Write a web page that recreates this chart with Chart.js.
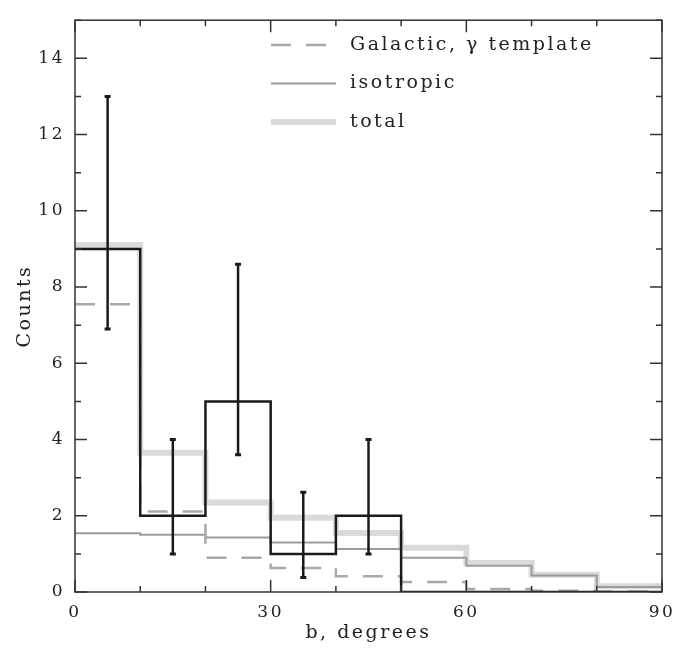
<!DOCTYPE html>
<html>
<head>
<meta charset="utf-8">
<script src="https://cdn.jsdelivr.net/npm/chart.js@4/dist/chart.umd.min.js"></script>
<style>
  html, body { margin: 0; padding: 0; background: #fff; }
</style>
</head>
<body>
<canvas id="chart" width="694" height="649"></canvas>
<script>
// bin edges in b (degrees), 10 degree bins
var binEdges = [0, 10, 20, 30, 40, 50, 60, 70, 80, 90];

// counts per bin
var observed  = [9, 2, 5, 1, 2, 0, 0, 0, 0];
var galactic  = [7.55, 2.11, 0.90, 0.63, 0.41, 0.26, 0.08, 0.03, 0.01];
var isotropic = [1.54, 1.50, 1.43, 1.30, 1.13, 0.90, 0.69, 0.43, 0.13];
var total     = [9.10, 3.65, 2.35, 1.95, 1.55, 1.16, 0.76, 0.45, 0.15];

// error bars on the observed counts (bin centre, low, high)
var errCentres = [5, 15, 25, 35, 45];
var errLow     = [6.9, 1.0, 3.6, 0.38, 1.0];
var errHigh    = [13.0, 4.0, 8.6, 2.62, 4.0];

var legendLabels = ["Galactic, \u03b3 template", "isotropic", "total"];

var FONT = "'DejaVu Serif', 'Liberation Serif', serif";

// histogram -> step points (left edge of each bin, plus the closing right edge)
function steps(values) {
  var pts = values.map(function(v, i) { return { x: binEdges[i], y: v }; });
  pts.push({ x: binEdges[binEdges.length - 1], y: values[values.length - 1] });
  return pts;
}

function errorPoints() {
  var pts = [];
  errCentres.forEach(function(c, i) {
    pts.push({ x: c, y: errLow[i] });
    pts.push({ x: c, y: errHigh[i] });
    pts.push({ x: c, y: null });
  });
  return pts;
}

var frameAndTicks = {
  id: "frameAndTicks",
  beforeDraw: function(chart) {
    chart.ctx.letterSpacing = "2.5px";
  },
  afterDatasetsDraw: function(chart) {
    var ctx = chart.ctx, a = chart.chartArea;
    var xs = chart.scales.x, ys = chart.scales.y;
    ctx.save();
    ctx.strokeStyle = "#333";
    ctx.lineWidth = 1.5;
    ctx.strokeRect(a.left, a.top, a.right - a.left, a.bottom - a.top);
    ctx.beginPath();
    for (var b = 0; b <= 90; b += 10) {
      var px = xs.getPixelForValue(b);
      var len = (b % 30 === 0) ? 12 : 6;
      ctx.moveTo(px, a.bottom); ctx.lineTo(px, a.bottom - len);
      ctx.moveTo(px, a.top); ctx.lineTo(px, a.top + len);
    }
    for (var c = 0; c <= 15; c += 1) {
      var py = ys.getPixelForValue(c);
      var l2 = (c % 2 === 0) ? 12 : 6;
      ctx.moveTo(a.left, py); ctx.lineTo(a.left + l2, py);
      ctx.moveTo(a.right, py); ctx.lineTo(a.right - l2, py);
    }
    ctx.stroke();
    ctx.restore();
  },
  afterDraw: function(chart) {
    // legend, top right of the plot
    var ctx = chart.ctx;
    var styles = chart.data.datasets.slice(0, 3);
    var x0 = 271, x1 = 336, tx = 350, y0 = 45, dy = 38.5;
    ctx.save();
    legendLabels.forEach(function(lab, i) {
      var ds = styles[i], y = y0 + i * dy;
      ctx.strokeStyle = ds.borderColor;
      ctx.lineWidth = ds.borderWidth;
      ctx.setLineDash(ds.borderDash || []);
      ctx.beginPath(); ctx.moveTo(x0, y); ctx.lineTo(x1, y); ctx.stroke();
      ctx.setLineDash([]);
      ctx.fillStyle = "#222";
      ctx.font = "19px " + FONT;
      ctx.textBaseline = "middle";
      ctx.textAlign = "left";
      ctx.fillText(lab, tx, y);
    });
    ctx.restore();
  }
};

var ctx = document.getElementById("chart").getContext("2d");
var oChart = new Chart(ctx, {
  type: "line",
  data: {
    datasets: [{
      label: legendLabels[0],
      data: steps(galactic),
      stepped: "before",
      borderColor: "#a9a9a9",
      borderWidth: 2.5,
      borderDash: [20, 15],
      pointRadius: 0,
      order: 3
    }, {
      label: legendLabels[1],
      data: steps(isotropic),
      stepped: "before",
      borderColor: "#9c9c9c",
      borderWidth: 2,
      pointRadius: 0,
      order: 4
    }, {
      label: legendLabels[2],
      data: steps(total),
      stepped: "before",
      borderColor: "#dadada",
      borderWidth: 6,
      pointRadius: 0,
      order: 5
    }, {
      label: "data",
      data: steps(observed),
      stepped: "before",
      borderColor: "#1a1a1a",
      borderWidth: 2.5,
      pointRadius: 0,
      order: 2
    }, {
      label: "errors",
      data: errorPoints(),
      borderColor: "#1a1a1a",
      borderWidth: 2.5,
      spanGaps: false,
      pointStyle: "line",
      pointRadius: 3,
      pointBorderWidth: 3,
      pointBorderColor: "#1a1a1a",
      order: 1
    }]
  },
  options: {
    responsive: false,
    animation: false,
    layout: { padding: { top: 5, right: 32, left: 0, bottom: 0 } },
    plugins: { legend: { display: false }, tooltip: { enabled: false } },
    scales: {
      x: {
        type: "linear",
        min: 0,
        max: 90,
        afterFit: function(scale) { scale.height = 57; },
        border: { display: false },
        grid: { display: false, drawTicks: false },
        ticks: { stepSize: 30, padding: 10, color: "#222", font: { family: FONT, size: 17 } },
        title: {
          display: true,
          text: "b, degrees",
          color: "#222",
          font: { family: FONT, size: 19 },
          padding: { top: 0, bottom: 5 }
        }
      },
      y: {
        min: 0,
        max: 15,
        afterFit: function(scale) { scale.width = 75; },
        afterBuildTicks: function(scale) {
          scale.ticks = scale.ticks.filter(function(t) { return t.value % 2 === 0; });
        },
        border: { display: false },
        grid: { display: false, drawTicks: false },
        ticks: { stepSize: 2, padding: 10, color: "#222", font: { family: FONT, size: 17 } },
        title: {
          display: true,
          text: "Counts",
          color: "#222",
          font: { family: FONT, size: 19 },
          padding: { top: 14, bottom: 0 }
        }
      }
    }
  },
  plugins: [frameAndTicks]
});
</script>
</body>
</html>
